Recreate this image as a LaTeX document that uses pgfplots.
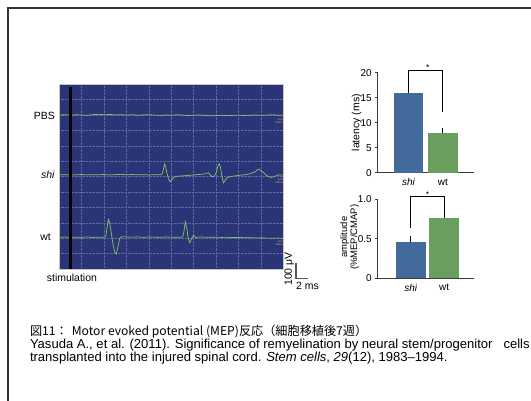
\documentclass[border=0pt]{standalone}
\usepackage{pgfplots}
\pgfplotsset{compat=1.18}
\usepackage{fontspec}
\setmainfont{Liberation Sans}
\newfontfamily\jp{Noto Sans CJK JP}

\definecolor{scopebg}{RGB}{44,52,120}
\definecolor{scopegrid}{RGB}{92,106,168}
\definecolor{trace}{RGB}{130,200,90}
\definecolor{scopetxt}{RGB}{215,190,70}
\definecolor{barblue}{RGB}{66,106,154}
\definecolor{bargreen}{RGB}{106,158,94}
\definecolor{axisgray}{RGB}{60,60,60}

\begin{document}
\begin{tikzpicture}
\useasboundingbox (0,0) rectangle (531bp,401bp);
% slide frame
\draw[line width=2bp, black!80] (8bp,0) -- (8bp,393bp) -- (531bp,393bp);

% ---- oscilloscope traces (x in ms, y in uV, 100 uV per division)
\begin{axis}[
  at={(59.3bp,132bp)}, anchor=south west,
  scale only axis, width=224bp, height=184.7bp,
  xmin=0, xmax=40, ymin=0, ymax=1200,
  axis background/.style={fill=scopebg},
  xtick={4,8,...,36}, ytick={100,200,...,1100},
  xticklabels={}, yticklabels={},
  grid=major, major grid style={densely dotted, scopegrid, line width=0.5bp},
  tick style={draw=none},
  axis line style={draw=gray!45, line width=0.6bp},
  clip=false,
]
% PBS
\addplot[trace, line width=0.7bp, no markers] coordinates {
(0,1000)(1,1003)(2,999)(3,1002)(4,1001)(5,998)(6,1003)(7,1005)(8,1002)(9,1004)
(10,1001)(11,1003)(12,1000)(13,1002)(14,999)(15,1001)(16,1003)(17,1000)(18,998)(19,1001)
(20,999)(21,1002)(22,1000)(23,997)(24,999)(25,1001)(26,998)(27,995)(28,997)(29,999)
(30,996)(31,998)(32,1000)(33,997)(34,999)(35,1001)(36,998)(37,1000)(38,1002)(39,999)(40,1000)};
% shi
\addplot[trace, line width=0.7bp, no markers] coordinates {
(0,611)(1,613)(2,610)(3,612)(4,614)(5,611)(6,613)(7,612)(8,614)(9,611)(10,613)(11,615)
(12,612)(13,614)(14,612)(15,613)(16,611)(17,613)(18,612)(18.4,618)(18.6,650)(18.8,682)
(19.0,665)(19.2,625)(19.5,585)(19.8,567)(20.1,580)(20.5,597)(21,602)(22,605)(23,608)
(24,611)(25,614)(26,618)(26.6,626)(27.0,610)(27.3,600)(27.7,604)(28.0,625)(28.3,665)
(28.55,684)(28.8,660)(29.0,610)(29.3,560)(29.6,575)(30.0,595)(31,603)(32,608)(33,612)
(34,618)(35,632)(35.5,648)(36,640)(36.5,625)(37,608)(37.5,598)(38,595)(38.5,603)(39,610)(40,612)};
% wt
\addplot[trace, line width=0.7bp, no markers] coordinates {
(0,206)(1,208)(2,205)(3,207)(4,206)(5,208)(6,205)(7,207)(8,206)(8.3,210)(8.5,260)
(8.75,323)(9.0,300)(9.3,230)(9.6,160)(9.9,110)(10.2,98)(10.5,150)(10.8,200)(11.1,210)
(12,208)(13,207)(14,209)(15,206)(16,208)(17,207)(18,206)(19,208)(20,207)(21,206)(22,207)
(22.2,230)(22.5,307)(22.8,260)(23.0,200)(23.3,171)(23.6,195)(24.0,221)(24.3,205)(25,208)
(26,207)(27,206)(28,207)(29,205)(30,206)(31,204)(32,205)(33,203)(34,204)(35,202)(36,203)
(37,201)(38,200)(39,201)(40,200)};
% stimulation marker
\addplot[black, line width=2.8bp, no markers] coordinates {(2,0)(2,1180)};
\end{axis}

% scope channel captions
\foreach \yy in {279.5,219.5,157.5}
  \node[inner sep=0, anchor=east, align=right, text=scopetxt,
        font=\fontsize{2.6}{2.9}\selectfont] at (283bp,\yy bp) {2ms\\100uV};

\node[inner sep=0, anchor=east, font=\fontsize{10.5}{10.5}\selectfont] at (55bp,285.3bp) {PBS};
\node[inner sep=0, anchor=east, font=\fontsize{10.5}{10.5}\selectfont] at (55bp,226bp) {\textit{shi}};
\node[inner sep=0, anchor=east, font=\fontsize{10.5}{10.5}\selectfont] at (51bp,163.7bp) {wt};
\node[inner sep=0, anchor=west, font=\fontsize{10.5}{10.5}\selectfont] at (46.7bp,123.7bp) {stimulation};

% scale bar
\draw[gray!70!black, line width=1.2bp] (296bp,137.7bp) -- (296bp,122.7bp) -- (308bp,122.7bp);
\node[inner sep=0, rotate=90, font=\fontsize{10.5}{10.5}\selectfont] at (289.3bp,132bp) {100 μV};
\node[inner sep=0, anchor=west, font=\fontsize{10.5}{10.5}\selectfont] at (296bp,115bp) {2 ms};

% ---- latency
\begin{axis}[
  at={(377.7bp,228.3bp)}, anchor=south west,
  scale only axis, width=96.6bp, height=100bp,
  xmin=-0.90, xmax=1.92, ymin=0, ymax=20,
  axis x line*=bottom, axis y line*=left,
  axis line style={axisgray, line width=0.9bp},
  ytick={0,5,10,15,20}, xtick={0,1}, xticklabels={\textit{shi},wt},
  x tick style={draw=none}, y tick style={axisgray, line width=0.9bp},
  tick align=outside, major tick length=2.5bp,
  tick label style={font=\fontsize{10}{10}\selectfont},
  /pgf/number format/assume math mode=true,
  ylabel={latency (ms)},
  ylabel style={at={(axis description cs:-0.217,0.5)}, anchor=center, font=\fontsize{10.5}{10.5}\selectfont},
  clip=false,
]
\addplot[ybar, bar width=0.87, bar shift=0pt, fill=barblue, draw=none,
  error bars/.cd, y dir=plus, y explicit,
  error bar style={black, line width=0.9bp},
  error mark options={black, mark size=2.5bp, line width=0.9bp}]
  coordinates {(0,15.9) +- (0,0.5)};
\addplot[ybar, bar width=0.87, bar shift=0pt, fill=bargreen, draw=none,
  error bars/.cd, y dir=plus, y explicit,
  error bar style={black, line width=0.9bp},
  error mark options={black, mark size=2.5bp, line width=0.9bp}]
  coordinates {(1,8.0) +- (0,0.5)};
\addplot[black, line width=0.9bp, no markers] coordinates {(0.01,16.9)(0.01,20.4)(0.98,20.4)(0.98,12.1)};
\node[font=\fontsize{8.5}{8.5}\selectfont, inner sep=0] at (axis cs:0.56,21.0) {*};
\end{axis}

% ---- amplitude
\begin{axis}[
  at={(377.7bp,122.7bp)}, anchor=south west,
  scale only axis, width=96.6bp, height=79bp,
  xmin=-0.99, xmax=1.90, ymin=0, ymax=1,
  axis x line*=bottom, axis y line*=left,
  axis line style={axisgray, line width=0.9bp},
  ytick={0,0.5,1}, yticklabels={0,0.5,1.0}, xtick={0,1}, xticklabels={\textit{shi},wt},
  x tick style={draw=none}, y tick style={axisgray, line width=0.9bp},
  tick align=outside, major tick length=2.5bp,
  tick label style={font=\fontsize{10}{10}\selectfont},
  /pgf/number format/assume math mode=true,
  ylabel={amplitude\\(\%MEP/CMAP)},
  ylabel style={at={(axis description cs:-0.29,0.52)}, anchor=center, align=center,
    font=\fontsize{9.5}{7.5}\selectfont},
  clip=false,
]
\addplot[ybar, bar width=0.89, bar shift=0pt, fill=barblue, draw=none,
  error bars/.cd, y dir=plus, y explicit,
  error bar style={black, line width=0.9bp},
  error mark options={black, mark size=2.5bp, line width=0.9bp}]
  coordinates {(0,0.463) +- (0,0.043)};
\addplot[ybar, bar width=0.89, bar shift=0pt, fill=bargreen, draw=none,
  error bars/.cd, y dir=plus, y explicit,
  error bar style={black, line width=0.9bp},
  error mark options={black, mark size=2.5bp, line width=0.9bp}]
  coordinates {(1,0.767) +- (0,0.106)};
\addplot[black, line width=0.9bp, no markers] coordinates {(-0.01,0.633)(-0.01,1.03)(1.0,1.03)(1.0,0.873)};
\node[font=\fontsize{8.5}{8.5}\selectfont, inner sep=0] at (axis cs:0.5,1.06) {*};
\end{axis}

% ---- caption
\node[inner sep=0, anchor=west, font=\jp\fontsize{12.2}{12.2}\selectfont] at (29.8bp,69bp)
  {図11：\hspace{4bp}Motor evoked potential (MEP)反応（細胞移植後7週）};
\node[inner sep=0, anchor=west, font=\fontsize{13.1}{13.1}\selectfont] at (29.8bp,55.5bp)
  {Yasuda A., et al. (2011). Significance of remyelination by neural stem/progenitor\hspace{11bp}cells};
\node[inner sep=0, anchor=west, font=\fontsize{13.1}{13.1}\selectfont] at (29.8bp,43bp)
  {transplanted into the injured spinal cord. \textit{Stem cells}, \textit{29}(12), 1983–1994.};
\end{tikzpicture}
\end{document}
